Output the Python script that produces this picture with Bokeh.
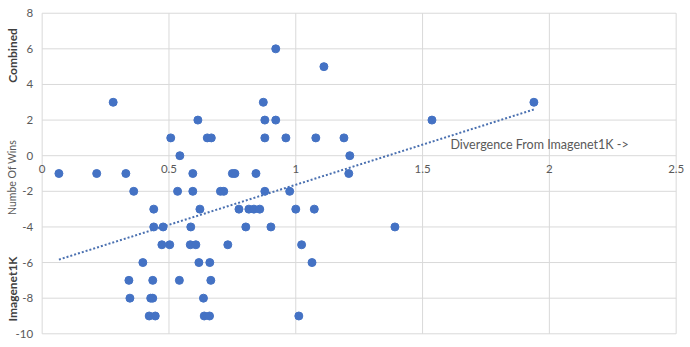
import math
from bokeh.plotting import figure
from bokeh.models import Range1d, Label, LabelSet, ColumnDataSource
from bokeh.core.properties import value
from bokeh.embed import file_html
from bokeh.resources import INLINE

# ---- data ----
x_vals = [
    0.921,
    1.111,
    0.280, 0.872, 1.939,
    0.614, 0.878, 0.921, 1.537,
    0.507, 0.651, 0.667, 0.878, 0.961, 1.079, 1.190,
    0.543, 1.213,
    0.066, 0.215, 0.330, 0.594, 0.750, 0.760, 0.843, 1.209,
    0.361, 0.534, 0.594, 0.703, 0.716, 0.878, 0.976,
    0.440, 0.622, 0.776, 0.815, 0.835, 0.858, 1.000, 1.073,
    0.440, 0.477, 0.586, 0.803, 0.902, 1.391,
    0.472, 0.503, 0.584, 0.606, 0.732, 1.023,
    0.397, 0.618, 0.661, 1.064,
    0.342, 0.436, 0.541, 0.665,
    0.346, 0.428, 0.436, 0.636,
    0.422, 0.446, 0.639, 0.660, 1.012,
]
y_vals = (
    [6] * 1 + [5] * 1 + [3] * 3 + [2] * 4 + [1] * 7 + [0] * 2 + [-1] * 8 + [-2] * 7
    + [-3] * 8 + [-4] * 6 + [-5] * 6 + [-6] * 4 + [-7] * 4 + [-8] * 4 + [-9] * 5
)

# linear trendline as drawn in the reference (slope / intercept)
trend_slope = 4.5
trend_intercept = -6.13

x_ticks = [0, 0.5, 1, 1.5, 2, 2.5]
x_tick_labels = ["0", "0.5", "1", "1.5", "2", "2.5"]
y_ticks = [-10, -8, -6, -4, -2, 0, 2, 4, 6, 8]
y_tick_labels = ["-10", "-8", "-6", "-4", "-2", "0", "2", "4", "6", "8"]

x_title = "Divergence From Imagenet1K ->"
y_title = "Numbe Of Wins"
top_label = "Combined"
bottom_label = "Imagenet1K"

# ---- figure: the frame covers the whole canvas, axes are drawn inside it ----
FONT = "Lato"
GRID = "#D9D9D9"
TXT = "#595959"
BLUE = "#4472C4"

W, H = 690, 347
PX_X0, PX_PER_X = 41.67, 253.6      # pixel of x=0, pixels per x unit
PX_Y0, PX_PER_Y = 155.2, 17.81      # pixel of y=0, pixels per y unit
x_range = Range1d(-PX_X0 / PX_PER_X, (W - PX_X0) / PX_PER_X)
y_range = Range1d((PX_Y0 - H) / PX_PER_Y, PX_Y0 / PX_PER_Y)

p = figure(
    width=W, height=H,
    output_backend="svg", toolbar_location=None,
    x_range=x_range, y_range=y_range,
    x_axis_location=None, y_axis_location=None,
    min_border=0,
)
p.outline_line_color = None
p.grid.visible = False
p.background_fill_color = "white"
p.border_fill_color = "white"

x_lo, x_hi = min(x_ticks), max(x_ticks)
y_lo, y_hi = min(y_ticks), max(y_ticks)

# grid lines (vertical and horizontal), spanning the axis extent
p.segment(x0=x_ticks, y0=[y_lo] * len(x_ticks), x1=x_ticks, y1=[y_hi] * len(x_ticks),
          line_color=GRID, line_width=1)
p.segment(x0=[x_lo] * len(y_ticks), y0=y_ticks, x1=[x_hi] * len(y_ticks), y1=y_ticks,
          line_color=GRID, line_width=1)

# y tick labels, left of x = 0
yl_src = ColumnDataSource(dict(x=[x_lo] * len(y_ticks), y=y_ticks, text=y_tick_labels))
p.add_layout(LabelSet(
    x="x", y="y", text="text", source=yl_src,
    text_align="right", text_baseline="middle", x_offset=-9,
    text_font=value(FONT), text_font_size=value("11.5px"), text_color=value(TXT),
))

# x tick labels along the y = 0 line
xl_src = ColumnDataSource(dict(x=x_ticks, y=[0] * len(x_ticks), text=x_tick_labels))
p.add_layout(LabelSet(
    x="x", y="y", text="text", source=xl_src,
    text_align="center", text_baseline="top", y_offset=-9,
    text_font=value(FONT), text_font_size=value("11.5px"), text_color=value(TXT),
))

# trendline
tx = [min(x_vals), max(x_vals)]
ty = [trend_intercept + trend_slope * v for v in tx]
p.line(tx, ty, line_color="#4a70b0", line_width=2, line_dash="2 2")

# points
p.scatter(x_vals, y_vals, size=8, fill_color=BLUE, line_color=BLUE)

# titles
p.add_layout(Label(
    x=1.610, y=0.63, text=x_title, text_align="left", text_baseline="middle",
    text_font=FONT, text_font_size="12.5px", text_color=TXT,
))
p.add_layout(Label(
    x=-0.117, y=-1.22, text=y_title, angle=math.pi / 2,
    text_align="center", text_baseline="middle",
    text_font=FONT, text_font_size="10.5px", text_color=TXT,
))
p.add_layout(Label(
    x=-0.117, y=5.63, text=top_label, angle=math.pi / 2,
    text_align="center", text_baseline="middle",
    text_font=FONT, text_font_size="12px", text_font_style="bold", text_color="#404040",
))
p.add_layout(Label(
    x=-0.117, y=-7.48, text=bottom_label, angle=math.pi / 2,
    text_align="center", text_baseline="middle",
    text_font=FONT, text_font_size="12px", text_font_style="bold", text_color="#404040",
))

open("out.html", "w").write(file_html(p, INLINE))
